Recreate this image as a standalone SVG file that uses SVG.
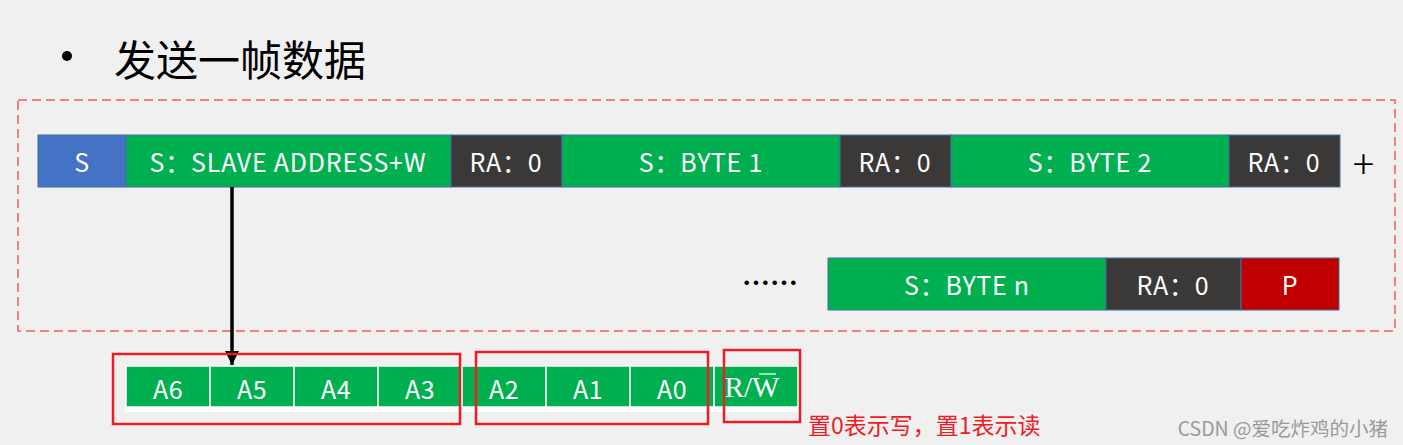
<svg xmlns="http://www.w3.org/2000/svg" width="1403" height="445" viewBox="0 0 1403 445">
<style>
.t{font-family:"Noto Sans CJK SC","Noto Sans",sans-serif;fill:#fff;font-size:25px;letter-spacing:0.8px;text-anchor:middle;dominant-baseline:central}
.s{font-family:"Noto Sans CJK SC","Noto Sans",sans-serif;fill:#fff;font-size:25px;letter-spacing:0.5px;text-anchor:middle;dominant-baseline:central}
.blk{stroke:#41719C;stroke-width:1}
.g{fill:#00B050}.d{fill:#3B3838}.b{fill:#4472C4}.r{fill:#C00000}
.cell{fill:#00B050;stroke:#fff;stroke-width:1.5}
.rb{fill:none;stroke:#EE1C25;stroke-width:2.5}
</style>
<defs>
<marker id="ah" markerWidth="14" markerHeight="14" refX="14" refY="7" orient="auto" markerUnits="userSpaceOnUse" viewBox="0 0 14 14">
<path d="M0,0 L14,7 L0,14 Z" fill="#000"/>
</marker>
</defs>
<rect width="1403" height="445" fill="#F0F0F0"/>
<g id="title">
<circle cx="67" cy="56" r="5" fill="#000"/>
<text x="114" y="57" font-family="Noto Sans CJK SC,sans-serif" font-size="42" dominant-baseline="central" fill="#000">发送一帧数据</text>
</g>
<g id="frame">
<rect x="18" y="100" width="1377" height="231" fill="none" stroke="#F47F7F" stroke-width="2" stroke-dasharray="9,5"/>
</g>
<g id="row1">
<rect class="blk b" x="38" y="135" width="88" height="52"/><text class="t" x="82" y="161">S</text>
<rect class="blk g" x="126" y="135" width="325" height="52"/><text class="t" x="288" y="161">S：SLAVE ADDRESS+W</text>
<rect class="blk d" x="451" y="135" width="111" height="52"/><text class="t" x="506" y="161">RA：0</text>
<rect class="blk g" x="562" y="135" width="278" height="52"/><text class="t" x="701" y="161">S：BYTE 1</text>
<rect class="blk d" x="840" y="135" width="111" height="52"/><text class="t" x="895" y="161">RA：0</text>
<rect class="blk g" x="951" y="135" width="278" height="52"/><text class="t" x="1090" y="161">S：BYTE 2</text>
<rect class="blk d" x="1229" y="135" width="111" height="52"/><text class="t" x="1284" y="161">RA：0</text>
<text x="1363.5" y="162" font-family="Noto Sans CJK SC,sans-serif" font-size="40" font-weight="300" text-anchor="middle" dominant-baseline="central" fill="#000">+</text>
</g>
<g id="row2">
<text x="770" y="282" font-family="Noto Sans CJK SC,sans-serif" font-size="28" font-weight="bold" text-anchor="middle" dominant-baseline="central" fill="#000">……</text>
<rect class="blk g" x="828" y="258" width="278" height="52"/><text class="t" x="967" y="284">S：BYTE n</text>
<rect class="blk d" x="1106" y="258" width="135" height="52"/><text class="t" x="1173" y="284">RA：0</text>
<rect class="blk r" x="1241" y="258" width="98" height="52"/><text class="t" x="1290" y="284">P</text>
</g>
<g id="connectors">
<line x1="232" y1="187" x2="232" y2="365" stroke="#000" stroke-width="3.5" marker-end="url(#ah)"/>
</g>
<g id="bits">
<rect x="125" y="365" width="674" height="47" fill="#fff"/>
<rect class="cell" x="126" y="366" width="84" height="41"/><text class="s" x="168" y="388">A6</text>
<rect class="cell" x="210" y="366" width="84" height="41"/><text class="s" x="252" y="388">A5</text>
<rect class="cell" x="294" y="366" width="84" height="41"/><text class="s" x="336" y="388">A4</text>
<rect class="cell" x="378" y="366" width="84" height="41"/><text class="s" x="420" y="388">A3</text>
<rect class="cell" x="462" y="366" width="84" height="41"/><text class="s" x="504" y="388">A2</text>
<rect class="cell" x="546" y="366" width="84" height="41"/><text class="s" x="588" y="388">A1</text>
<rect class="cell" x="630" y="366" width="84" height="41"/><text class="s" x="672" y="388">A0</text>
<rect class="cell" x="714" y="366" width="84" height="41"/>
<text x="752" y="396.5" font-family="Liberation Serif,serif" font-size="29" fill="#fff" text-anchor="middle">R/W</text>
<line x1="759" y1="374" x2="776" y2="374" stroke="#fff" stroke-width="1.2"/>
</g>
<g id="highlights">
<rect class="rb" x="113" y="354" width="347" height="70"/>
<rect class="rb" x="476" y="352" width="232" height="72"/>
<rect class="rb" x="724" y="350" width="76" height="72"/>
<text x="808" y="424" font-family="Noto Sans CJK SC,sans-serif" font-size="23" fill="#EE1C25" dominant-baseline="central">置0表示写，置1表示读</text>
</g>
<text x="1388" y="427" font-family="Noto Sans CJK SC,sans-serif" font-size="19.5" fill="#9A9A9A" text-anchor="end" dominant-baseline="central">CSDN @爱吃炸鸡的小猪</text>
</svg>
